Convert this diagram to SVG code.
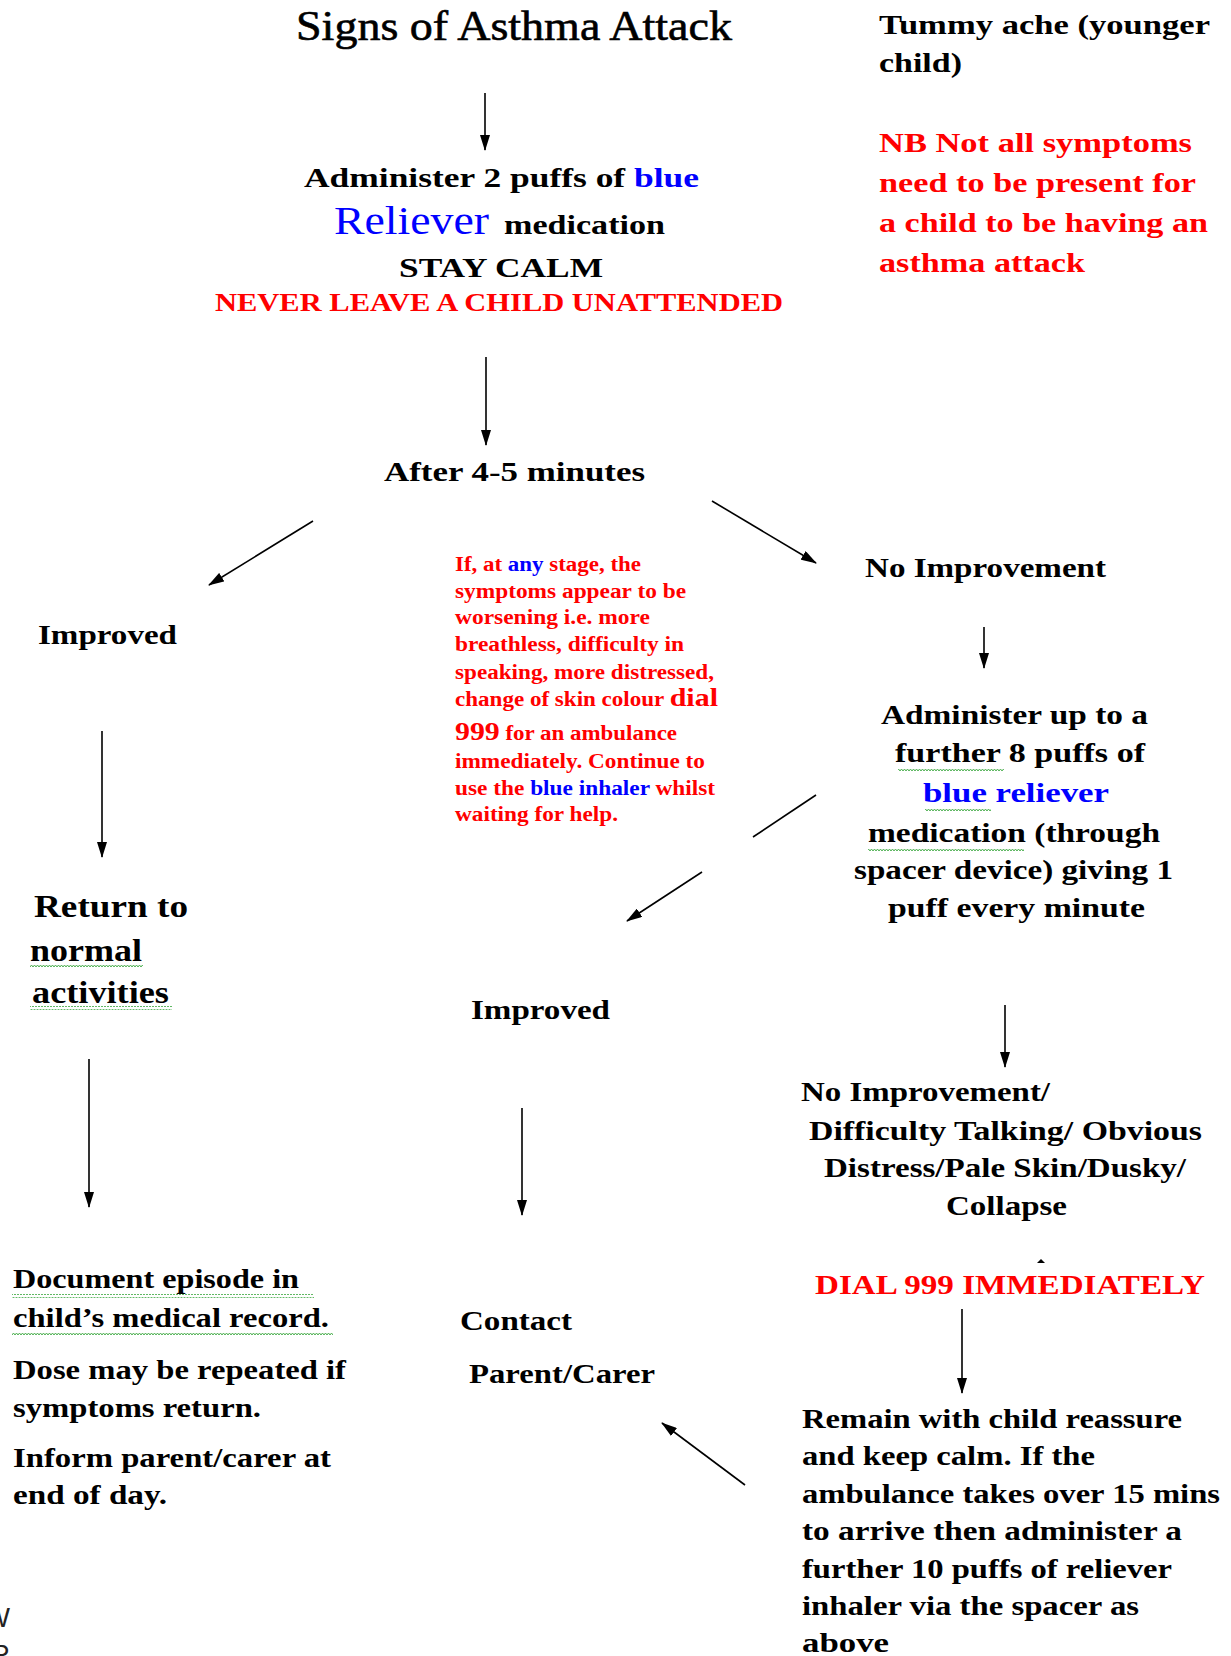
<svg xmlns="http://www.w3.org/2000/svg" width="1231" height="1656" viewBox="0 0 1231 1656">
<style>
text{font-family:"Liberation Serif","Times New Roman",serif;font-weight:bold;font-size:28px;fill:#000}
.t{font-weight:normal;font-size:42px;stroke:#000;stroke-width:0.6}
.r{fill:#ff0000}
.b{fill:#0000ff}
.p{font-size:20px}
.big{font-size:31px}
.n{font-weight:normal}
.rel{font-size:40px}
.nev{font-size:26px}
.sans{font-family:"Liberation Sans",Arial,sans-serif;font-weight:normal;font-size:27px;fill:#222}
.con line{stroke:#000;stroke-width:1.6}
</style>
<defs>
<marker id="ah" viewBox="0 0 16 10" refX="15" refY="5" markerWidth="16" markerHeight="10" markerUnits="userSpaceOnUse" orient="auto">
<path d="M0,0 L16,5 L0,10 z" fill="#000"/>
</marker>
<pattern id="wave" width="6" height="4" patternUnits="userSpaceOnUse">
<path d="M0,3 L1.5,1 L3,3 L4.5,1 L6,3" fill="none" stroke="#4caf50" stroke-width="1"/>
</pattern>
</defs>
<rect width="1231" height="1656" fill="#fff"/>

<g id="title"><text class="t" x="296" y="40" textLength="436" lengthAdjust="spacingAndGlyphs">Signs of Asthma Attack</text></g>
<g id="tummy">
<text x="879" y="34" textLength="331" lengthAdjust="spacingAndGlyphs">Tummy ache (younger</text>
<text x="879" y="72" textLength="83" lengthAdjust="spacingAndGlyphs">child)</text>
</g>
<g id="nb">
<text class="r" x="879" y="152" textLength="313" lengthAdjust="spacingAndGlyphs">NB Not all symptoms</text>
<text class="r" x="879" y="192" textLength="317" lengthAdjust="spacingAndGlyphs">need to be present for</text>
<text class="r" x="879" y="232" textLength="329" lengthAdjust="spacingAndGlyphs">a child to be having an</text>
<text class="r" x="879" y="272" textLength="206" lengthAdjust="spacingAndGlyphs">asthma attack</text>
</g>
<g id="administer">
<text x="304" y="187" textLength="395" lengthAdjust="spacingAndGlyphs">Administer 2 puffs of <tspan class="b">blue</tspan></text>
<text class="b n rel" x="334" y="234" textLength="155" lengthAdjust="spacingAndGlyphs">Reliever</text>
<text x="504" y="234" textLength="161" lengthAdjust="spacingAndGlyphs">medication</text>
<text x="399" y="277" textLength="204" lengthAdjust="spacingAndGlyphs">STAY CALM</text>
<text class="r nev" x="215" y="311" textLength="568" lengthAdjust="spacingAndGlyphs">NEVER LEAVE A CHILD UNATTENDED</text>
</g>
<g id="after"><text x="384" y="481" textLength="261" lengthAdjust="spacingAndGlyphs">After 4-5 minutes</text></g>
<g id="noimp"><text x="865" y="577" textLength="241" lengthAdjust="spacingAndGlyphs">No Improvement</text></g>
<g id="improved1"><text x="38" y="644" textLength="139" lengthAdjust="spacingAndGlyphs">Improved</text></g>
<g id="warning">
<text class="r p" x="455" y="571" textLength="186" lengthAdjust="spacingAndGlyphs">If, at <tspan class="b">any</tspan> stage, the</text>
<text class="r p" x="455" y="598" textLength="231" lengthAdjust="spacingAndGlyphs">symptoms appear to be</text>
<text class="r p" x="455" y="624" textLength="195" lengthAdjust="spacingAndGlyphs">worsening i.e. more</text>
<text class="r p" x="455" y="651" textLength="229" lengthAdjust="spacingAndGlyphs">breathless, difficulty in</text>
<text class="r p" x="455" y="679" textLength="259" lengthAdjust="spacingAndGlyphs">speaking, more distressed,</text>
<text class="r p" x="455" y="706" textLength="263" lengthAdjust="spacingAndGlyphs">change of skin colour <tspan font-size="26">dial</tspan></text>
<text class="r p" x="455" y="740" textLength="222" lengthAdjust="spacingAndGlyphs"><tspan font-size="26">999</tspan> for an ambulance</text>
<text class="r p" x="455" y="768" textLength="250" lengthAdjust="spacingAndGlyphs">immediately. Continue to</text>
<text class="r p" x="455" y="795" textLength="260" lengthAdjust="spacingAndGlyphs">use the <tspan class="b">blue inhaler</tspan> whilst</text>
<text class="r p" x="455" y="821" textLength="163" lengthAdjust="spacingAndGlyphs">waiting for help.</text>
</g>
<g id="further">
<text x="881" y="724" textLength="267" lengthAdjust="spacingAndGlyphs">Administer up to a</text>
<text x="895" y="762" textLength="250" lengthAdjust="spacingAndGlyphs">further 8 puffs of</text>
<text class="b" x="923" y="802" textLength="186" lengthAdjust="spacingAndGlyphs">blue reliever</text>
<text x="868" y="842" textLength="292" lengthAdjust="spacingAndGlyphs">medication (through</text>
<text x="854" y="879" textLength="319" lengthAdjust="spacingAndGlyphs">spacer device) giving 1</text>
<text x="888" y="917" textLength="257" lengthAdjust="spacingAndGlyphs">puff every minute</text>
<rect x="898" y="767" width="106" height="4" fill="url(#wave)"/>
<rect x="925" y="808" width="66" height="4" fill="url(#wave)"/>
<rect x="868" y="847" width="156" height="4" fill="url(#wave)"/>
</g>
<g id="return">
<text class="big" x="34" y="917" textLength="154" lengthAdjust="spacingAndGlyphs">Return to</text>
<text class="big" x="30" y="961" textLength="112" lengthAdjust="spacingAndGlyphs">normal</text>
<text class="big" x="32" y="1003" textLength="137" lengthAdjust="spacingAndGlyphs">activities</text>
<rect x="30" y="965" width="113" height="4" fill="url(#wave)"/>
<rect x="30" y="1006" width="142" height="4" fill="url(#wave)"/>
</g>
<g id="improved2"><text x="471" y="1019" textLength="139" lengthAdjust="spacingAndGlyphs">Improved</text></g>
<g id="severe">
<text x="801" y="1101" textLength="249" lengthAdjust="spacingAndGlyphs">No Improvement/</text>
<text x="809" y="1140" textLength="393" lengthAdjust="spacingAndGlyphs">Difficulty Talking/ Obvious</text>
<text x="824" y="1177" textLength="362" lengthAdjust="spacingAndGlyphs">Distress/Pale Skin/Dusky/</text>
<text x="946" y="1215" textLength="121" lengthAdjust="spacingAndGlyphs">Collapse</text>
</g>
<g id="document">
<text x="13" y="1288" textLength="286" lengthAdjust="spacingAndGlyphs">Document episode in</text>
<text x="13" y="1327" textLength="316" lengthAdjust="spacingAndGlyphs">child’s medical record.</text>
<text x="13" y="1379" textLength="333" lengthAdjust="spacingAndGlyphs">Dose may be repeated if</text>
<text x="13" y="1417" textLength="248" lengthAdjust="spacingAndGlyphs">symptoms return.</text>
<text x="13" y="1467" textLength="318" lengthAdjust="spacingAndGlyphs">Inform parent/carer at</text>
<text x="13" y="1504" textLength="154" lengthAdjust="spacingAndGlyphs">end of day.</text>
<rect x="12" y="1294" width="302" height="4" fill="url(#wave)"/>
<rect x="12" y="1333" width="321" height="4" fill="url(#wave)"/>
</g>
<g id="contact">
<text x="460" y="1330" textLength="112" lengthAdjust="spacingAndGlyphs">Contact</text>
<text x="469" y="1383" textLength="186" lengthAdjust="spacingAndGlyphs">Parent/Carer</text>
</g>
<g id="dial"><text class="r" x="815" y="1294" textLength="390" lengthAdjust="spacingAndGlyphs">DIAL 999 IMMEDIATELY</text></g>
<g id="remain">
<text x="802" y="1428" textLength="380" lengthAdjust="spacingAndGlyphs">Remain with child reassure</text>
<text x="802" y="1465" textLength="293" lengthAdjust="spacingAndGlyphs">and keep calm. If the</text>
<text x="802" y="1503" textLength="418" lengthAdjust="spacingAndGlyphs">ambulance takes over 15 mins</text>
<text x="802" y="1540" textLength="380" lengthAdjust="spacingAndGlyphs">to arrive then administer a</text>
<text x="802" y="1578" textLength="370" lengthAdjust="spacingAndGlyphs">further 10 puffs of reliever</text>
<text x="802" y="1615" textLength="337" lengthAdjust="spacingAndGlyphs">inhaler via the spacer as</text>
<text x="802" y="1652" textLength="87" lengthAdjust="spacingAndGlyphs">above</text>
</g>
<g id="edge"><text class="sans" x="10" y="1627" text-anchor="end">W</text><text class="sans" x="10" y="1664" text-anchor="end">R</text></g>
<path d="M1037,1263 L1041,1259 L1045,1263 z" fill="#000"/>

<g class="con" id="connectors">
<line x1="485" y1="93" x2="485" y2="150" marker-end="url(#ah)"/>
<line x1="486" y1="357" x2="486" y2="445" marker-end="url(#ah)"/>
<line x1="313" y1="521" x2="209" y2="585" marker-end="url(#ah)"/>
<line x1="712" y1="501" x2="816" y2="563" marker-end="url(#ah)"/>
<line x1="102" y1="731" x2="102" y2="857" marker-end="url(#ah)"/>
<line x1="984" y1="627" x2="984" y2="668" marker-end="url(#ah)"/>
<line x1="816" y1="795" x2="753" y2="837"/>
<line x1="702" y1="872" x2="627" y2="921" marker-end="url(#ah)"/>
<line x1="1005" y1="1005" x2="1005" y2="1067" marker-end="url(#ah)"/>
<line x1="89" y1="1059" x2="89" y2="1207" marker-end="url(#ah)"/>
<line x1="522" y1="1108" x2="522" y2="1215" marker-end="url(#ah)"/>
<line x1="962" y1="1309" x2="962" y2="1393" marker-end="url(#ah)"/>
<line x1="745" y1="1485" x2="662" y2="1423" marker-end="url(#ah)"/>
</g>
</svg>
